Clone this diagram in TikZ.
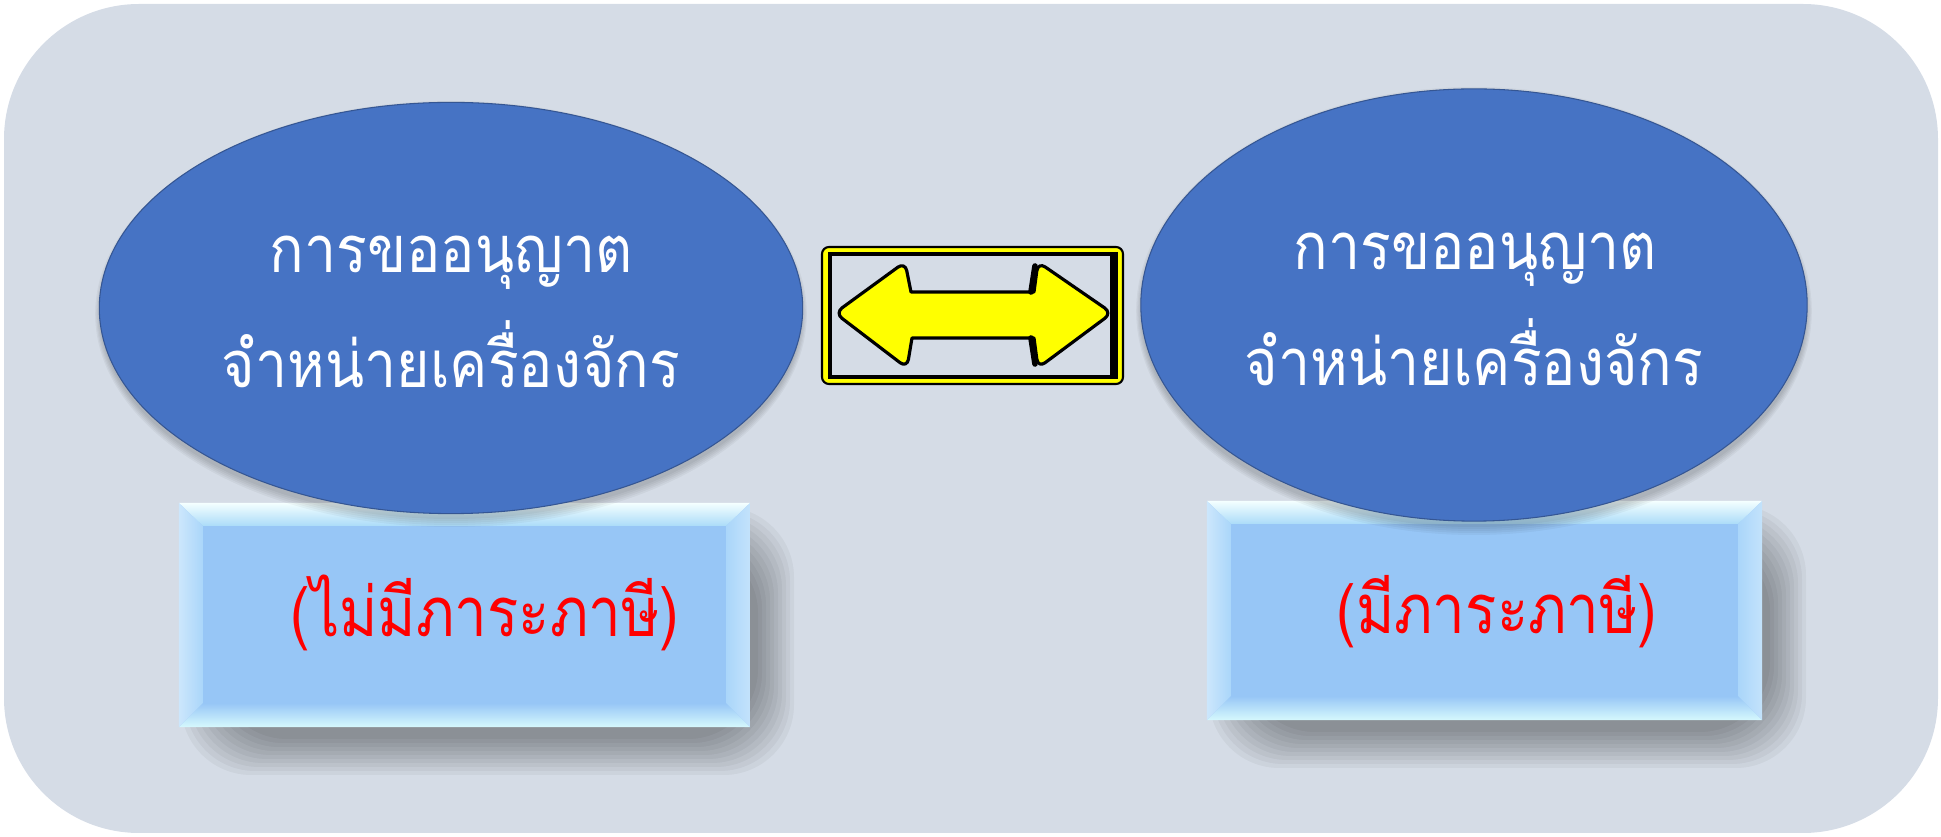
\documentclass[tikz,border=0pt]{standalone}
\usepackage{fontspec}
\newfontfamily\thai[Script=Thai, FakeStretch=0.88]{Loma}
\newfontfamily\thair[Script=Thai, FakeStretch=0.85]{Loma}
\usetikzlibrary{shapes.geometric}
\definecolor{bg}{HTML}{D5DCE6}
\definecolor{ellblue}{HTML}{4673C4}
\definecolor{ellrim}{HTML}{7EA8F0}
\definecolor{boxmain}{HTML}{97C6F6}
\definecolor{bevtop}{HTML}{F4FFFF}
\definecolor{bevcyan}{HTML}{C4F6FC}
\definecolor{bevside}{HTML}{AAD6FA}
\definecolor{signyellow}{HTML}{FFFF00}
\pgfdeclareradialshading{rim}{\pgfpoint{0bp}{0bp}}{color(0bp)=(ellblue); color(42bp)=(ellblue); color(48.5bp)=(ellrim!75!ellblue); color(50bp)=(ellrim)}
\tikzset{
  ellnode/.style={ellipse, inner sep=0pt, outer sep=0pt, shading=rim, draw=ellblue!75!black, line width=0.3pt},
  whitetext/.style={text=white, font=\thai\fontsize{18.5}{22}\selectfont, inner sep=0pt, anchor=base},
  boxbase/.style={rectangle, inner sep=0pt, outer sep=0pt, fill=boxmain},
  redlabel/.style={text=red, font=\thair\fontsize{19.5}{24}\selectfont, inner sep=0pt, anchor=base},
}
\begin{document}
\begin{tikzpicture}[x=0.01cm, y=-0.01cm]
\useasboundingbox (0,0) rectangle (1941,837);
% background panel
\fill[bg, rounded corners=1.35cm] (4,4) rectangle (1938,833);

% box shadows
\foreach \r in {-16,-12,...,20} {
  \fill[black, opacity=0.04, rounded corners=20] (179+22-\r,503+24-\r) rectangle (750+24+\r,727+28+\r);
  \fill[black, opacity=0.04, rounded corners=20] (1207+22-\r,501+24-\r) rectangle (1762+24+\r,720+28+\r);
}

% boxes
\node[boxbase, minimum width=5.71cm, minimum height=2.24cm] (b1) at (464.5,615) {};
\node[boxbase, minimum width=5.55cm, minimum height=2.19cm] (b2) at (1484.5,610.5) {};
\foreach \b in {b1,b2} {
  \shade[top color=bevtop, bottom color=bevcyan!45!boxmain]
    (\b.north west) -- (\b.north east) -- ([shift={(-24,23)}]\b.north east) -- ([shift={(24,23)}]\b.north west) -- cycle;
  \shade[top color=boxmain, bottom color=bevcyan!70!white]
    (\b.south west) -- (\b.south east) -- ([shift={(-24,-24)}]\b.south east) -- ([shift={(24,-24)}]\b.south west) -- cycle;
  \shade[left color=bevside!60!white, right color=bevside]
    (\b.north west) -- ([shift={(24,23)}]\b.north west) -- ([shift={(24,-24)}]\b.south west) -- (\b.south west) -- cycle;
  \shade[left color=bevside, right color=bevside!70!white]
    (\b.north east) -- ([shift={(-24,23)}]\b.north east) -- ([shift={(-24,-24)}]\b.south east) -- (\b.south east) -- cycle;
}
\node[redlabel] (t1) at (485,637) {(ไม่มีภาระภาษี)};
\node[redlabel] (t2) at (1497,634) {(มีภาระภาษี)};

% ellipse shadows
\foreach \r in {0,4,...,16} {
  \fill[black, opacity=0.04] (451,314) ellipse [x radius=351+\r*0.3, y radius=205+\r*0.5];
  \fill[black, opacity=0.04] (1474,311) ellipse [x radius=333+\r*0.3, y radius=216+\r*0.5];
}

% ellipses
\node[ellnode, minimum width=7.03cm, minimum height=4.11cm] (e1) at (451,308) {};
\node[ellnode, minimum width=6.66cm, minimum height=4.32cm] (e2) at (1474,305) {};
\node[whitetext] (e1a) at (451,273) {การขออนุญาต};
\node[whitetext] (e1b) at (451,388) {จำหน่ายเครื่องจักร};
\node[whitetext] (e2a) at (1475,270) {การขออนุญาต};
\node[whitetext] (e2b) at (1474,386) {จำหน่ายเครื่องจักร};

% double arrow sign
\path[fill=signyellow, draw=black, line width=0.6pt, rounded corners=2pt] (822,247) rectangle (1123,384);
\path[fill=bg, draw=black, line width=0.9pt] (830,254) rectangle (1116,377);
\fill[black] (1110,255) rectangle (1117,377);
\path[fill=signyellow, draw=black, line width=0.9pt, line join=round]
  (835,313) [rounded corners=2.5pt] -- (905,262) [sharp corners] -- (911,292) -- (1034,292)
  [rounded corners=2.5pt] -- (1038,262) -- (1112,313) -- (1038,368) [sharp corners] -- (1034,338)
  -- (912,338) [rounded corners=2.5pt] -- (907,368) -- cycle;
\draw[black, line width=1.6pt, line cap=round] (1035,266) -- (1031,292);
\draw[black, line width=1.6pt, line cap=round] (1031,338) -- (1035,364);
\node[inner sep=0pt] (sign) at (972,315) {};
\end{tikzpicture}
\end{document}
